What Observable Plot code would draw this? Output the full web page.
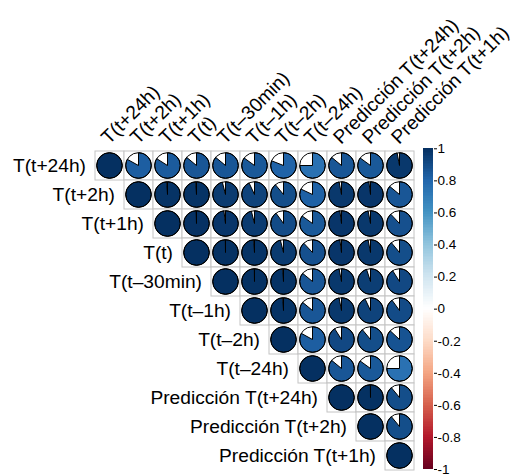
<!DOCTYPE html>
<html>
<head>
<meta charset="utf-8">
<script src="https://cdn.jsdelivr.net/npm/d3@7"></script>
<script src="https://cdn.jsdelivr.net/npm/@observablehq/plot@0.6"></script>
<style>
  html, body { margin: 0; padding: 0; background: white; }
  #wrap { position: relative; width: 517px; height: 476px; overflow: hidden; }
  #wrap svg { position: absolute; top: 0; }
</style>
</head>
<body>
<div id="wrap"></div>
<script>
// Variables (row/column order)
const variables = [
  "T(t+24h)", "T(t+2h)", "T(t+1h)", "T(t)", "T(t–30min)", "T(t–1h)",
  "T(t–2h)", "T(t–24h)", "Predicción T(t+24h)", "Predicción T(t+2h)", "Predicción T(t+1h)"
];

// Upper-triangle correlations, one array per row (starting at the diagonal)
const rowTt24 = [1, 0.83, 0.84, 0.86, 0.86, 0.85, 0.81, 0.75, 0.86, 0.85, 0.97];
const rowTt2  = [1, 0.99, 0.99, 0.96, 0.93, 0.89, 0.82, 0.97, 0.98, 0.86];
const rowTt1  = [1, 0.995, 0.98, 0.96, 0.90, 0.85, 0.98, 0.97, 0.88];
const rowT    = [1, 0.998, 0.99, 0.96, 0.88, 0.98, 0.97, 0.89];
const rowTm30 = [1, 0.998, 0.99, 0.86, 0.97, 0.95, 0.91];
const rowTm1  = [1, 0.99, 0.86, 0.97, 0.93, 0.90];
const rowTm2  = [1, 0.83, 0.91, 0.89, 0.87];
const rowTm24 = [1, 0.86, 0.85, 0.75];
const rowP24  = [1, 0.998, 0.89];
const rowP2   = [1, 0.89];
const rowP1   = [1];
const corrRows = [rowTt24, rowTt2, rowTt1, rowT, rowTm30, rowTm1, rowTm2, rowTm24, rowP24, rowP2, rowP1];

// Colour bar
const colorDomain = [-1, -0.8, -0.6, -0.4, -0.2, 0, 0.2, 0.4, 0.6, 0.8, 1];
const colorRange = ["#67001F", "#B2182B", "#D6604D", "#F4A582", "#FDDBC7", "#FFFFFF",
                    "#D1E5F0", "#92C5DE", "#4393C3", "#2166AC", "#053061"];
const colorTicks = [1, 0.8, 0.6, 0.4, 0.2, 0, -0.2, -0.4, -0.6, -0.8, -1];

// Build table
const cells = [];
corrRows.forEach((vals, i) => {
  vals.forEach((r, k) => {
    cells.push({row: variables[i], col: variables[i + k], r});
  });
});

const W = 517, H = 476;
const mLeft = 92.7, mRight = 101, mTop = 148.3, mBottom = 4;
const font = "Helvetica, Arial, 'Liberation Sans', sans-serif";
const colorScale = {type: "linear", domain: colorDomain, range: colorRange, interpolate: "rgb"};
const labelSize = 19.2;

const R = 12.8;
const pieRender = (index, scales, values) => {
  const bx = scales.x.bandwidth ? scales.x.bandwidth() / 2 : 0;
  const by = scales.y.bandwidth ? scales.y.bandwidth() / 2 : 0;
  const g = d3.create("svg:g");
  const arc = d3.arc().innerRadius(0).outerRadius(R);
  for (const i of index) {
    const cx = values.x[i] + bx, cy = values.y[i] + by;
    const c = g.append("g").attr("transform", `translate(${cx},${cy})`);
    c.append("circle").attr("r", R).attr("fill", "white").attr("stroke", "none");
    const r = cells[i].r;
    c.append("path")
      .attr("d", arc({startAngle: 0, endAngle: 2 * Math.PI * r}))
      .attr("fill", values.fill[i])
      .attr("stroke", "black")
      .attr("stroke-width", 1)
      .attr("stroke-linejoin", "round");
    c.append("circle").attr("r", R).attr("fill", "none").attr("stroke", "black").attr("stroke-width", 1);
  }
  return g.node();
};

const main = Plot.plot({
  width: W, height: H,
  marginLeft: mLeft, marginRight: mRight, marginTop: mTop, marginBottom: mBottom,
  style: {fontFamily: font, background: "transparent", overflow: "visible"},
  x: {domain: variables, padding: 0, axis: null},
  y: {domain: variables, padding: 0, axis: null},
  color: colorScale,
  marks: [
    Plot.cell(cells, {x: "col", y: "row", fill: "white", stroke: "#c4c4c4", strokeWidth: 1}),
    Plot.dot(cells, {x: "col", y: "row", fill: "r", render: pieRender}),
    Plot.text(variables, {x: d => d, y: d => d, text: d => d, textAnchor: "end",
      dx: -24, fontSize: labelSize, fill: "black"}),
    Plot.text(variables, {x: d => d, y: () => variables[0], text: d => d, textAnchor: "start",
      lineAnchor: "bottom", rotate: -45, dy: -21, dx: -1, fontSize: labelSize, fill: "black"})
  ]
});

// Colour legend drawn as a second Plot
const bins = d3.range(200).map(i => ({lo: -1 + i * 0.01, hi: -1 + (i + 1) * 0.01}));
const legend = Plot.plot({
  width: 100, height: H,
  marginLeft: 6, marginRight: 84, marginTop: mTop, marginBottom: 7,
  style: {fontFamily: font, background: "transparent", overflow: "visible"},
  x: {domain: [0, 1], axis: null},
  y: {domain: [-1, 1], axis: null},
  color: colorScale,
  marks: [
    Plot.rect(bins, {x1: 0, x2: 1, y1: "lo", y2: "hi", fill: d => (d.lo + d.hi) / 2,
      shapeRendering: "crispEdges", inset: 0}),
    Plot.axisY(colorTicks, {anchor: "right", tickSize: 3, tickPadding: 1,
      tickFormat: d => String(d), fontSize: 13.5, stroke: "black", fill: "black"})
  ]
});
legend.style.left = "417px";
main.style.left = "0px";

document.getElementById("wrap").append(main, legend);
</script>
</body>
</html>
